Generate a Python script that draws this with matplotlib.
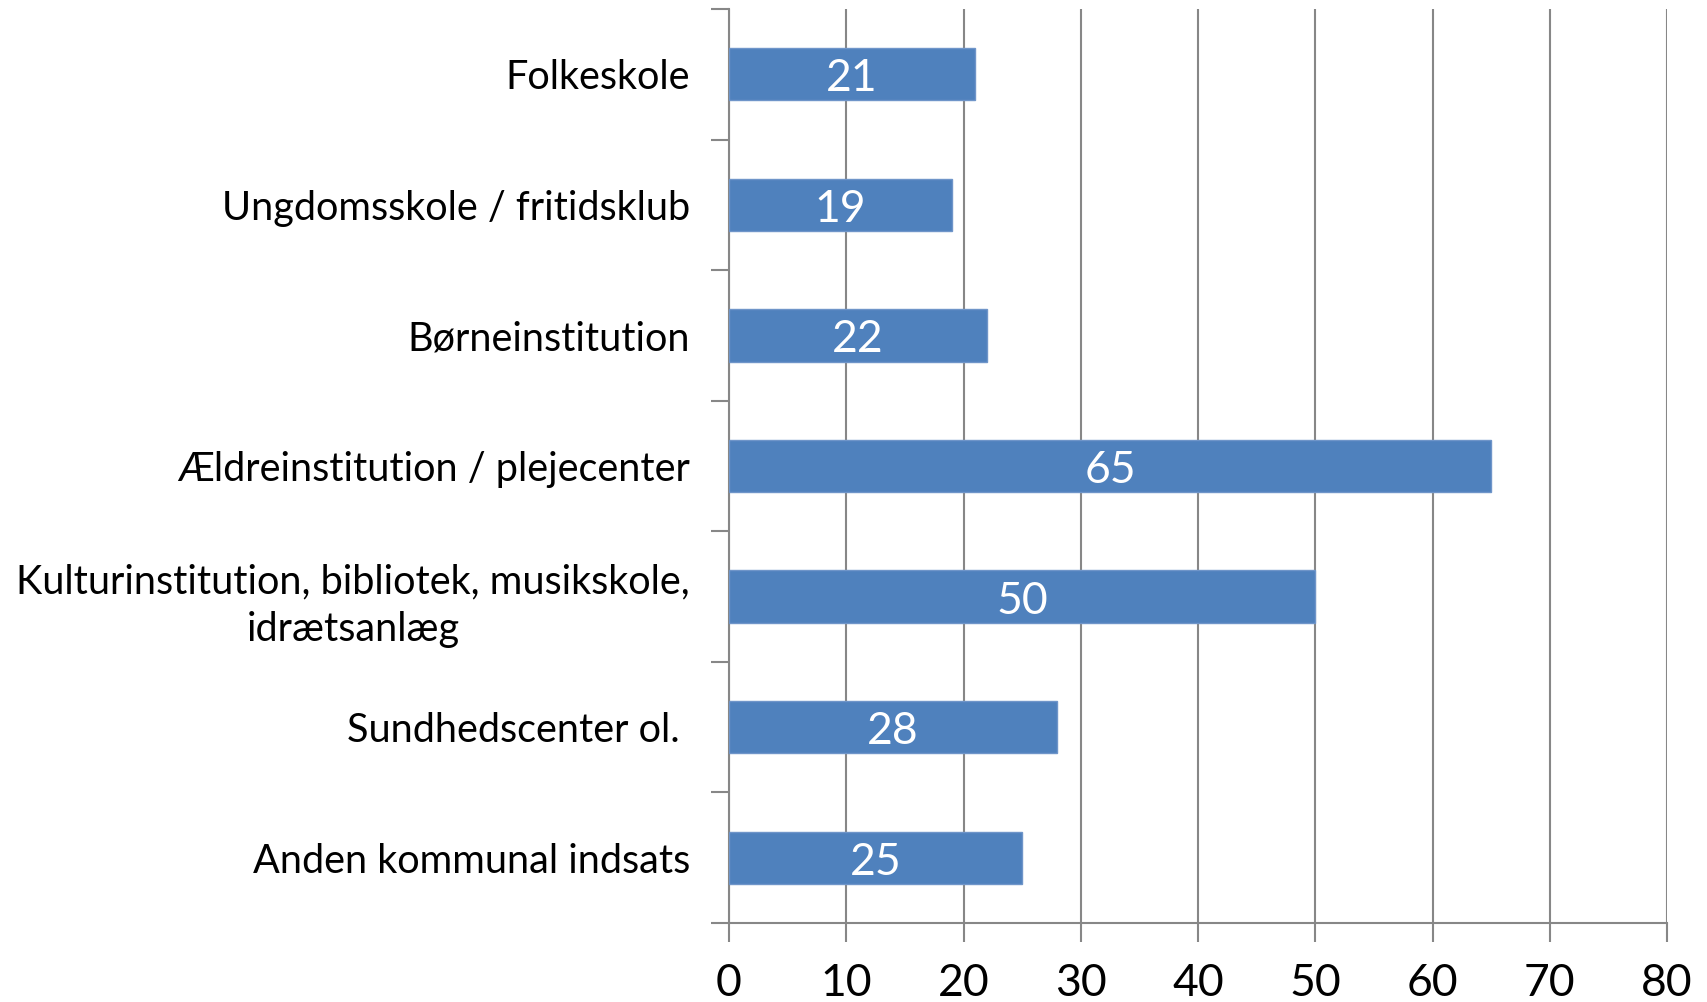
import matplotlib
matplotlib.use("Agg")
import matplotlib.pyplot as plt
import numpy as np

categories = [
    "Folkeskole",
    "Ungdomsskole / fritidsklub",
    "Børneinstitution",
    "Ældreinstitution / plejecenter",
    "Kulturinstitution, bibliotek, musikskole,\nidrætsanlæg",
    "Sundhedscenter ol. ",
    "Anden kommunal indsats",
]
values = [21, 19, 22, 65, 50, 28, 25]
xticks = [0, 10, 20, 30, 40, 50, 60, 70, 80]

plt.rcParams['font.family'] = ['Lato', 'DejaVu Sans']

fig = plt.figure(figsize=(17.07, 10.02), dpi=100)
ax = fig.add_axes([729/1707, 1-923/1002, (1667-729)/1707, (923-9)/1002])

grid_c = "#878787"
bar_c = "#4F81BD"
y = np.arange(len(categories))
ax.barh(y, values, height=0.4, color=bar_c, edgecolor="#6F95C9", linewidth=1, zorder=3)
for yi, v in zip(y, values):
    ax.text(v/2, yi + 0.035, str(v), ha='center', va='center', color='white', fontsize=32, zorder=4)

ax.set_xlim(0, 80)
ax.set_ylim(len(categories)-0.5, -0.5)
ax.set_xticks(xticks)
ax.set_xticklabels([str(t) for t in xticks], fontsize=32)
ax.set_yticks(y)
ax.set_yticklabels(categories, fontsize=28.5)
for lab in ax.get_yticklabels():
    lab.set_multialignment('center')
    lab.set_linespacing(1.35)
ax.set_yticks(np.arange(len(categories)+1)-0.5, minor=True)
ax.tick_params(axis='y', which='major', length=0, pad=28)
ax.tick_params(axis='y', which='minor', length=13, width=1.5, color=grid_c, direction='out')
ax.tick_params(axis='x', which='major', length=14, width=1.5, color=grid_c, pad=15)

ax.grid(axis='x', color=grid_c, linewidth=1.5, zorder=0)
ax.set_axisbelow(True)
for s in ['top', 'right']:
    ax.spines[s].set_visible(False)
for s in ['left', 'bottom']:
    ax.spines[s].set_color(grid_c)
    ax.spines[s].set_linewidth(1.5)

fig.savefig("out.png", dpi=100)
